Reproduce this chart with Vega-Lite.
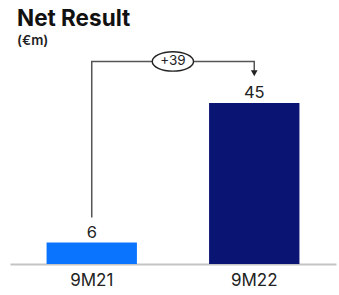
{
  "$schema": "https://vega.github.io/schema/vega-lite/v6.json",
  "autosize": "none",
  "width": 326,
  "height": 204,
  "padding": {"left": 10, "top": 60, "right": 3, "bottom": 31},
  "background": "white",
  "title": {
    "text": "Net Result",
    "subtitle": "(€m)",
    "anchor": "start",
    "frame": "group",
    "dx": 7,
    "offset": 1,
    "font": "Inter",
    "fontSize": 22.5,
    "fontWeight": "bold",
    "color": "#111111",
    "subtitleFont": "Inter",
    "subtitleFontSize": 13.5,
    "subtitleFontWeight": 600,
    "subtitleColor": "#222222",
    "subtitlePadding": 4
  },
  "config": {"view": {"stroke": null}},
  "datasets": {
    "bars": [
      {"period": "9M21", "value": 6},
      {"period": "9M22", "value": 45}
    ],
    "connector": [
      {"period": "9M21", "level": 13, "order": 1},
      {"period": "9M21", "level": 56.6, "order": 2},
      {"period": "9M22", "level": 56.6, "order": 3},
      {"period": "9M22", "level": 53.5, "order": 4}
    ],
    "arrow": [{"period": "9M22", "level": 53.3}],
    "delta": [{"period": "9M21", "level": 56.6, "label": "+39"}]
  },
  "encoding": {
    "x": {
      "field": "period",
      "type": "nominal",
      "scale": {"paddingInner": 0.444, "paddingOuter": 0.225},
      "axis": {
        "title": null,
        "labelAngle": 0,
        "ticks": false,
        "labelFont": "Inter",
        "labelFontSize": 17,
        "labelColor": "#222222",
        "labelPadding": 8,
        "domainColor": "#c4c4c4",
        "domainWidth": 2
      }
    }
  },
  "layer": [
    {
      "data": {"name": "bars"},
      "mark": {"type": "bar"},
      "encoding": {
        "y": {"field": "value", "type": "quantitative", "scale": {"domain": [0, 57], "nice": false, "zero": true}, "axis": null},
        "color": {
          "field": "period",
          "type": "nominal",
          "scale": {"domain": ["9M21", "9M22"], "range": ["#0a74ff", "#0a1473"]},
          "legend": null
        }
      }
    },
    {
      "data": {"name": "bars"},
      "mark": {"type": "text", "baseline": "alphabetic", "dy": -5, "font": "Inter", "fontSize": 16.5, "color": "#222222"},
      "encoding": {
        "y": {"field": "value", "type": "quantitative"},
        "text": {"field": "value", "type": "quantitative"}
      }
    },
    {
      "data": {"name": "connector"},
      "mark": {"type": "line", "color": "#555555", "strokeWidth": 1.5},
      "encoding": {
        "y": {"field": "level", "type": "quantitative"},
        "order": {"field": "order"}
      }
    },
    {
      "data": {"name": "arrow"},
      "mark": {"type": "point", "shape": "triangle-down", "filled": true, "color": "#222222", "size": 45, "opacity": 1},
      "encoding": {
        "y": {"field": "level", "type": "quantitative"}
      }
    },
    {
      "data": {"name": "delta"},
      "mark": {"type": "point", "shape": "M-1,0A1,0.47 0 1,0 1,0A1,0.47 0 1,0 -1,0Z", "filled": true, "fill": "white", "stroke": "#222222", "strokeWidth": 1.4, "size": 1700, "opacity": 1},
      "encoding": {
        "x": {"field": "period", "type": "nominal", "bandPosition": 1.398},
        "y": {"field": "level", "type": "quantitative"}
      }
    },
    {
      "data": {"name": "delta"},
      "mark": {"type": "text", "baseline": "middle", "align": "center", "font": "Inter", "fontSize": 13.5, "color": "#222222"},
      "encoding": {
        "x": {"field": "period", "type": "nominal", "bandPosition": 1.398},
        "y": {"field": "level", "type": "quantitative"},
        "text": {"field": "label"}
      }
    }
  ]
}
